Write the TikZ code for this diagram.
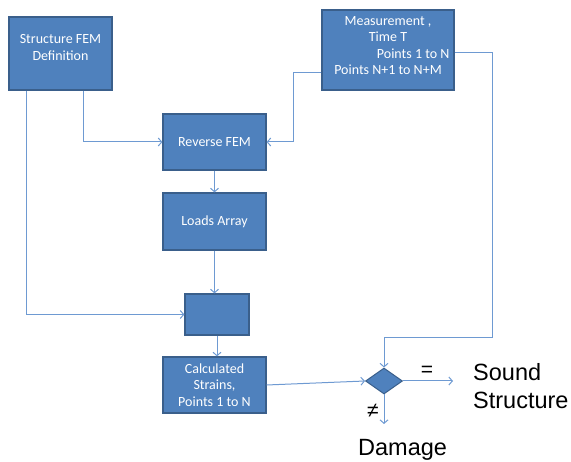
\documentclass[tikz,border=0pt]{standalone}
\usepackage{fontspec}
\setmainfont{Carlito}
\newfontfamily\bigfont{Liberation Sans}
\usetikzlibrary{arrows.meta,shapes.geometric}
\definecolor{boxfill}{HTML}{4F81BD}
\definecolor{boxline}{HTML}{3A5F8B}
\definecolor{flowline}{HTML}{6E9AD2}
\tikzset{
  block/.style={rectangle, draw=boxline, fill=boxfill, line width=1.2pt, text=white,
    align=center, font=\fontsize{14}{16.5}\selectfont, inner sep=2pt},
  decision/.style={diamond, draw=boxline, fill=boxfill, line width=1pt, inner sep=0pt,
    minimum width=37pt, minimum height=26pt},
  flow/.style={-{Straight Barb[length=3.5pt,width=8pt]}, flowline, line width=1pt},
  result/.style={font=\bigfont\fontsize{23.5}{28}\selectfont, text=black, inner sep=0pt},
}

\begin{document}
\begin{tikzpicture}[x=1pt,y=-1pt]
  \useasboundingbox (0,0) rectangle (571,462);

  % boxes
  \node[block,minimum width=103pt,minimum height=73pt] (struct) at (60.5,53.5)
    {Structure FEM\\Definition\\[-4pt]\mbox{}};
  \node[block,minimum width=132pt,minimum height=80pt] (meas) at (388,50)
    {Measurement ,\\Time T\\\hspace*{3.6em}Points 1 to N\\Points N+1 to N+M\\[-8pt]\mbox{}};
  \node[block,minimum width=103pt,minimum height=56pt] (rev) at (214.5,142) {Reverse FEM};
  \node[block,minimum width=103pt,minimum height=57pt] (loads) at (214.5,221.5) {Loads Array};
  \node[block,minimum width=64pt,minimum height=41pt] (blank) at (217,314.5) {};
  \node[block,minimum width=103pt,minimum height=56pt] (calc) at (214.5,385)
    {Calculated\\Strains,\\Points 1 to N};
  \node[decision] (dia) at (384,381) {};

  % outcome texts
  \node[result,font=\bigfont\fontsize{21}{24}\selectfont] (eq) at (427,371) {=};
  \node[result,font=\bigfont\fontsize{21}{24}\selectfont] (neq) at (373,411) {≠};
  \node[result,anchor=west,align=left] (sound) at (473,386) {Sound\\Structure};
  \node[result,anchor=west] (damage) at (358,450) {Damage};

  \coordinate (bend) at (492,338);
  \coordinate (soundend) at (453,381);
  \coordinate (damageend) at (384,424);

  % connectors
  \draw[flow] ([xshift=22.5pt]struct.south) |- (rev.west);
  \draw[flow] ([xshift=-34.5pt]struct.south) |- (blank.west);
  \draw[flow] ([yshift=-23pt]meas.west) -- ++(-28,0) |- (rev.east);
  \draw[flow] ([yshift=-3pt]meas.east) -| (bend) -| (dia.north);
  \draw[flow] (rev.south) -- (loads.north);
  \draw[flow] (loads.south) -- (loads.south |- blank.north);
  \draw[flow] (blank.south) -- (blank.south |- calc.north);
  \draw[flow] (calc.east) -- (dia.west);
  \draw[flow] (dia.east) -- (soundend);
  \draw[flow] (dia.south) -- (damageend);
\end{tikzpicture}
\end{document}
